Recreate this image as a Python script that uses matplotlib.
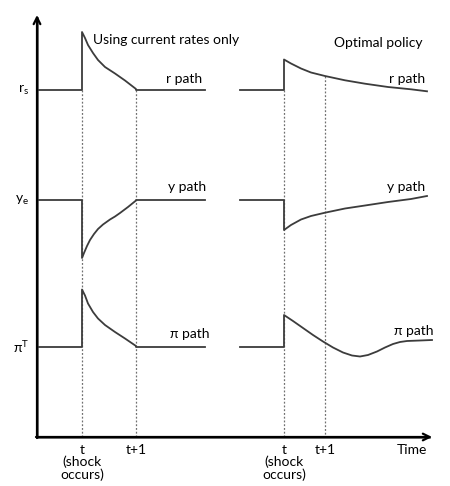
import matplotlib.pyplot as plt

plt.rcParams['font.family'] = ['Lato', 'DejaVu Sans']

# schematic, in picture units (x right, y down)
axis_x = 37
axis_bottom = 437
axis_top = 15
axis_right = 432

levels = {'r': 90, 'y': 200, 'pi': 347}

# left panel: using current rates only
left_t, left_t1, left_end = 82, 136, 205
left_r_x = [82, 85, 88, 93, 98, 105, 115, 125, 136]
left_r_y = [32, 38, 45, 53, 60, 67, 73.5, 80.5, 89]
left_y_x = [82, 84, 87, 90, 94, 98, 103, 110, 115, 120, 128, 136]
left_y_y = [258, 253, 246, 240, 234, 229, 224.5, 219.5, 216.5, 213, 207, 200.5]
left_pi_x = [82, 85, 88, 93, 98, 105, 115, 125, 136]
left_pi_y = [289.5, 295.5, 303.5, 312, 318.5, 325, 332, 338.5, 346]

# right panel: optimal policy
right_start, right_t, right_t1 = 240, 284, 325
right_r_x = [284, 291, 301, 311, 325, 345, 365, 388, 411, 427]
right_r_y = [59.5, 63.5, 68.5, 72.5, 76, 80.3, 83.7, 87, 89.3, 91.3]
right_y_x = [284, 291, 301, 311, 325, 345, 365, 388, 411, 427]
right_y_y = [230, 225, 219.5, 216, 212.7, 208.5, 205.5, 202, 199, 196]
right_pi_x = [284, 293, 303, 313, 323, 333, 343, 352, 360, 368, 377, 385,
              393, 400, 407, 420, 432]
right_pi_y = [315, 321, 328, 335, 341.5, 347.5, 352.5, 355.5, 356.5, 355,
              351.5, 347.5, 344, 342, 341, 340.5, 340]

line_c = '#3c3c3c'
axis_c = '#4a4a4a'
dot_c = '#707070'

fig = plt.figure(figsize=(4.5, 4.86), dpi=100)
ax = fig.add_axes([0, 0, 1, 1])
ax.set_xlim(0, 450)
ax.set_ylim(486, 0)
ax.axis('off')

# axes with arrows
ax.annotate('', xy=(axis_x, axis_top), xytext=(axis_x, axis_bottom + 1),
            arrowprops=dict(arrowstyle='->', color='black', lw=1.6,
                            mutation_scale=12, shrinkA=0, shrinkB=0))
ax.plot([axis_x, axis_x], [axis_top + 3, axis_bottom], color=axis_c, lw=1.8)
ax.annotate('', xy=(axis_right, axis_bottom), xytext=(axis_x - 1, axis_bottom),
            arrowprops=dict(arrowstyle='->', color='black', lw=1.6,
                            mutation_scale=12, shrinkA=0, shrinkB=0))
ax.plot([axis_x, axis_right - 3], [axis_bottom, axis_bottom], color=axis_c, lw=1.8)

# dotted guides
for x, top in [(left_t, levels['r']), (left_t1, levels['r']),
               (right_t, levels['r']), (right_t1, right_r_y[4])]:
    ax.plot([x, x], [top, axis_bottom], color=dot_c, lw=0.9, ls=(0, (1.5, 1.5)))

# left panel
for key, xs, ys in [('r', left_r_x, left_r_y), ('y', left_y_x, left_y_y),
                    ('pi', left_pi_x, left_pi_y)]:
    lvl = levels[key]
    ax.plot([axis_x, left_t, left_t] + xs + [left_t1, left_end],
            [lvl, lvl, ys[0]] + ys + [lvl, lvl], color=line_c, lw=1.3,
            solid_joinstyle='round')

# right panel
for key, xs, ys in [('r', right_r_x, right_r_y), ('y', right_y_x, right_y_y),
                    ('pi', right_pi_x, right_pi_y)]:
    lvl = levels[key]
    ax.plot([right_start, right_t, right_t] + xs,
            [lvl, lvl, ys[0]] + ys, color=line_c, lw=1.3,
            solid_joinstyle='round')

fs = 10
ax.text(93, 40, 'Using current rates only', fontsize=fs, va='center', ha='left')
ax.text(423, 43, 'Optimal policy', fontsize=fs, va='center', ha='right')
ax.text(202, 79, 'r path', fontsize=fs, va='center', ha='right')
ax.text(206, 187, 'y path', fontsize=fs, va='center', ha='right')
ax.text(210, 334, 'π path', fontsize=fs, va='center', ha='right')
ax.text(425, 79, 'r path', fontsize=fs, va='center', ha='right')
ax.text(425, 187, 'y path', fontsize=fs, va='center', ha='right')
ax.text(433, 331, 'π path', fontsize=fs, va='center', ha='right')

ax.text(29, levels['r'], r'r$_\mathregular{s}$', fontsize=fs, va='center', ha='right')
ax.text(29, levels['y'], r'y$_\mathregular{e}$', fontsize=fs, va='center', ha='right')
ax.text(29, levels['pi'], r'π$^\mathregular{T}$', fontsize=fs, va='center', ha='right')

for x in (left_t, right_t):
    ax.text(x, 450, 't', fontsize=fs, va='center', ha='center')
    ax.text(x, 468, '(shock\noccurs)', fontsize=fs, va='center', ha='center',
            linespacing=1.0)
for x in (left_t1, right_t1):
    ax.text(x, 450, 't+1', fontsize=fs, va='center', ha='center')
ax.text(427, 450, 'Time', fontsize=fs, va='center', ha='right')

plt.savefig('out.png', dpi=100)
